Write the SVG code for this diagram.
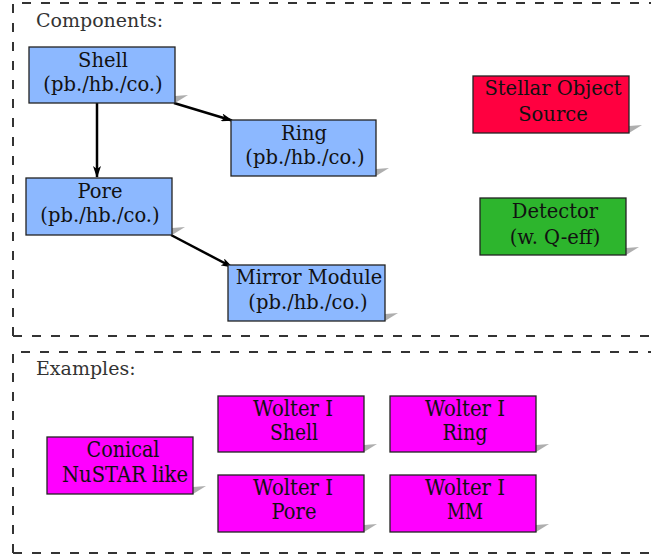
<svg xmlns="http://www.w3.org/2000/svg" width="651" height="555" viewBox="0 0 651 555">
<style>
.frame{fill:none;stroke:#333;stroke-width:2;stroke-dasharray:9 10}
.lbl{font-family:"DejaVu Serif","Liberation Serif",serif;font-size:19px;fill:#333}
.box{stroke:#222;stroke-width:1.3}
.blue{fill:#8cb8ff}
.red{fill:#ff0040}
.green{fill:#2db52d}
.mag{fill:#ff00ff}
.sh{fill:#9a9a9a;opacity:0.8}
.t{font-family:"DejaVu Serif","Liberation Serif",serif;font-size:19.5px;fill:#111;text-anchor:middle}
.te{font-family:"DejaVu Serif","Liberation Serif",serif;font-size:22px;fill:#111;text-anchor:middle}
.conn{stroke:#000;stroke-width:2.5;fill:none;marker-end:url(#ah)}
</style>
<defs>
<marker id="ah" markerWidth="12" markerHeight="8" refX="11" refY="4" orient="auto" markerUnits="userSpaceOnUse">
<path d="M0,0 L12,4 L0,8 L3,4 Z" fill="#000"/>
</marker>
</defs>
<rect width="651" height="555" fill="#fff"/>
<g id="frames">
<path class="frame" d="M13,336 V3 H660"/>
<path class="frame" d="M13,336 H660"/>
<path class="frame" d="M13,553 V352 H660"/>
<path class="frame" d="M13,553 H660"/>
<text class="lbl" x="36" y="27">Components:</text>
<text class="lbl" x="36" y="375">Examples:</text>
</g>
<g id="connectors">
<line class="conn" x1="97" y1="103" x2="97" y2="177"/>
<line class="conn" x1="174" y1="103" x2="232" y2="120.5"/>
<line class="conn" x1="171" y1="235" x2="232" y2="267"/>
</g>
<g id="shell">
<polygon class="sh" points="175,96 188,95 175,103"/>
<rect class="box blue" x="29" y="47" width="146" height="56"/>
<text class="t" x="103" y="67">Shell</text>
<text class="t" x="103" y="91">(pb./hb./co.)</text>
</g>
<g id="ring">
<polygon class="sh" points="376,169 389,168 376,176"/>
<rect class="box blue" x="231" y="120" width="145" height="56"/>
<text class="t" x="304" y="140">Ring</text>
<text class="t" x="305" y="164">(pb./hb./co.)</text>
</g>
<g id="pore">
<polygon class="sh" points="172,228 185,227 172,235"/>
<rect class="box blue" x="26" y="178" width="146" height="57"/>
<text class="t" x="100" y="198">Pore</text>
<text class="t" x="100" y="222">(pb./hb./co.)</text>
</g>
<g id="mirror-module">
<polygon class="sh" points="385,314 398,313 385,321"/>
<rect class="box blue" x="228" y="265" width="157" height="56"/>
<text class="t" x="309" y="284">Mirror Module</text>
<text class="t" x="308" y="309">(pb./hb./co.)</text>
</g>
<g id="stellar-source">
<polygon class="sh" points="629,126 642,125 629,133"/>
<rect class="box red" x="473" y="76" width="156" height="57"/>
<text class="t" x="553" y="95">Stellar Object</text>
<text class="t" x="553" y="121">Source</text>
</g>
<g id="detector">
<polygon class="sh" points="626,248 639,247 626,255"/>
<rect class="box green" x="480" y="198" width="146" height="57"/>
<text class="t" x="555" y="218">Detector</text>
<text class="t" x="555" y="244">(w. Q-eff)</text>
</g>
<g id="conical">
<polygon class="sh" points="193,487 206,486 193,494"/>
<rect class="box mag" x="47" y="437" width="146" height="57"/>
<text class="te" x="123" y="457" textLength="73" lengthAdjust="spacingAndGlyphs">Conical</text>
<text class="te" x="125" y="482" textLength="126" lengthAdjust="spacingAndGlyphs">NuSTAR like</text>
</g>
<g id="wolter-shell">
<polygon class="sh" points="364,445 377,444 364,452"/>
<rect class="box mag" x="218" y="396" width="146" height="56"/>
<text class="te" x="293" y="416" textLength="80" lengthAdjust="spacingAndGlyphs">Wolter I</text>
<text class="te" x="294" y="440" textLength="48" lengthAdjust="spacingAndGlyphs">Shell</text>
</g>
<g id="wolter-ring">
<polygon class="sh" points="536,445 549,444 536,452"/>
<rect class="box mag" x="390" y="396" width="146" height="56"/>
<text class="te" x="465" y="416" textLength="80" lengthAdjust="spacingAndGlyphs">Wolter I</text>
<text class="te" x="465" y="440" textLength="45" lengthAdjust="spacingAndGlyphs">Ring</text>
</g>
<g id="wolter-pore">
<polygon class="sh" points="364,525 377,524 364,532"/>
<rect class="box mag" x="218" y="475" width="146" height="57"/>
<text class="te" x="293" y="495" textLength="80" lengthAdjust="spacingAndGlyphs">Wolter I</text>
<text class="te" x="294" y="519" textLength="45" lengthAdjust="spacingAndGlyphs">Pore</text>
</g>
<g id="wolter-mm">
<polygon class="sh" points="536,525 549,524 536,532"/>
<rect class="box mag" x="390" y="475" width="146" height="57"/>
<text class="te" x="465" y="495" textLength="80" lengthAdjust="spacingAndGlyphs">Wolter I</text>
<text class="te" x="465" y="519" textLength="36" lengthAdjust="spacingAndGlyphs">MM</text>
</g>
</svg>
